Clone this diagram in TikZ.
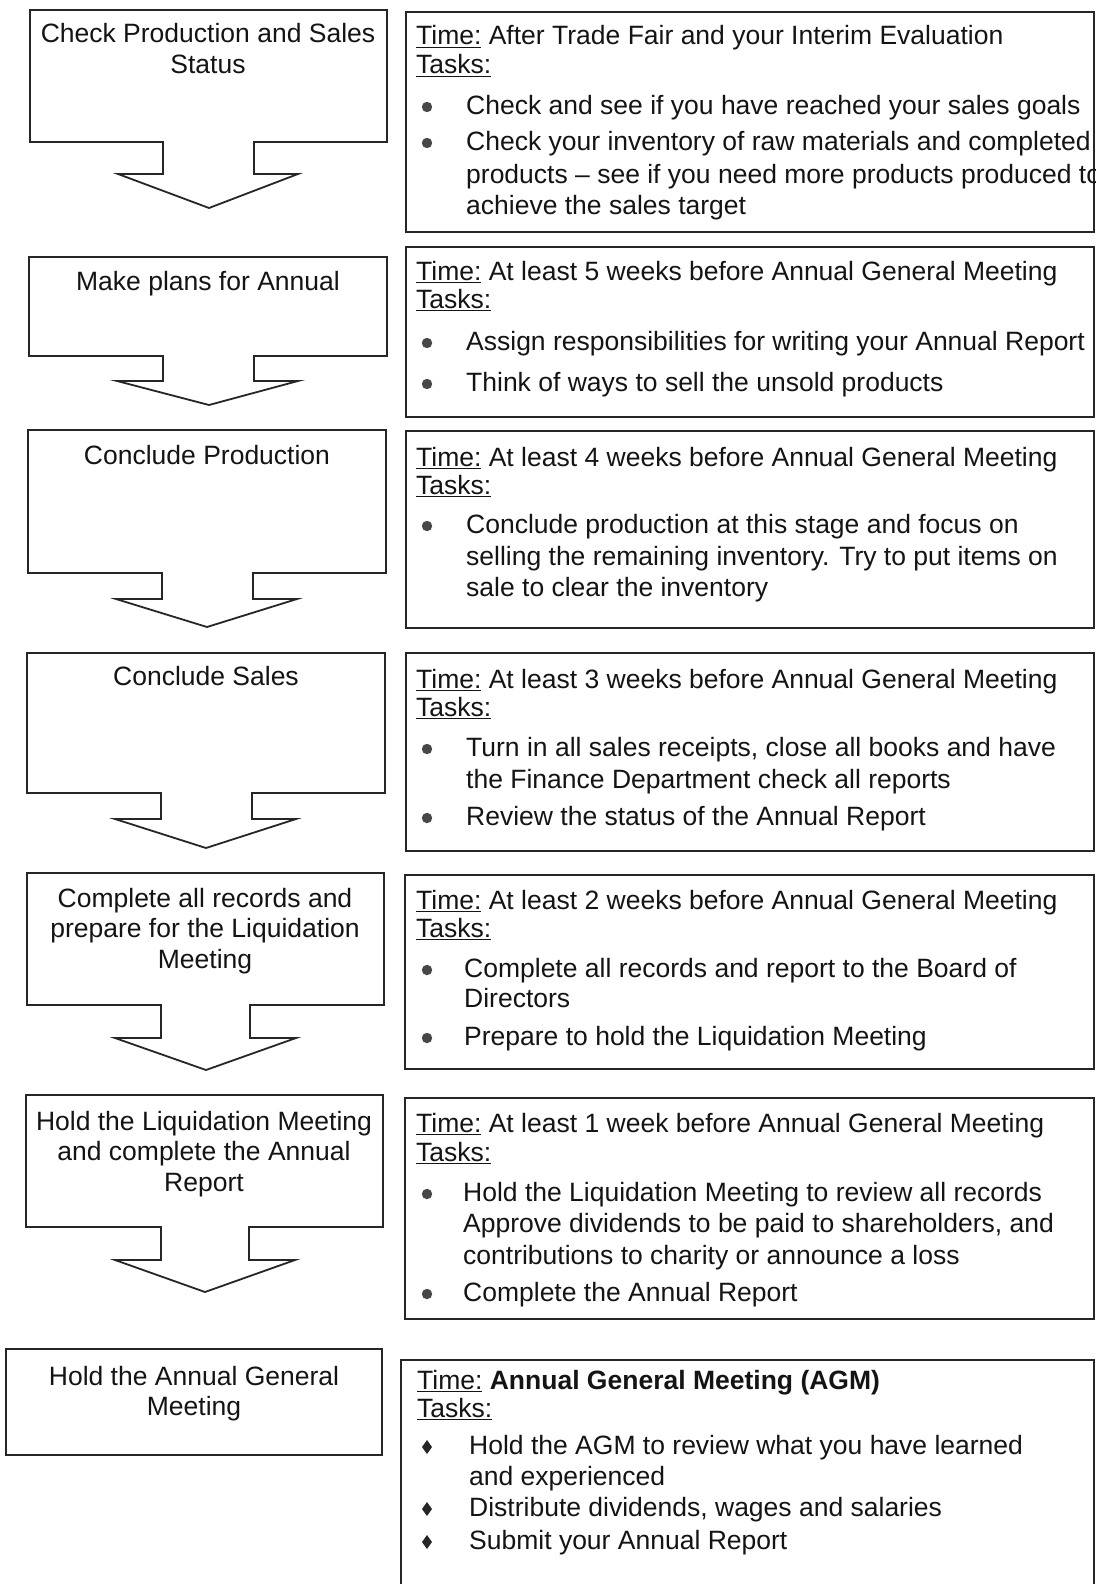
\documentclass[tikz,border=0pt]{standalone}
\usepackage{fontspec}
\setmainfont{Liberation Sans}
\newcommand\bodyfont{\fontsize{26.5pt}{31pt}\selectfont}
% underlined label word
\newcommand\uln[1]{\setbox0\hbox{#1}\rlap{\rule[-3.2pt]{\wd0}{1.5pt}}\box0\relax}

\begin{document}
\begin{tikzpicture}[x=1pt,y=-1pt,
  frame/.style={draw=black!85, line width=1.8pt, line join=miter},
  ltext/.style={anchor=base, inner sep=0pt, font=\bodyfont, text=black!92},
  rtext/.style={anchor=base west, inner sep=0pt, font=\bodyfont, text=black!92},
  dotb/.style={fill=black!72}]

\useasboundingbox (0,0) rectangle (1095,1584);
\fill[white] (0,0) rectangle (1095,1584);
\clip (0,0) rectangle (1095,1584);

% ---------- block arrows (left column) ----------
\draw[frame] (30,10) -- (387,10) -- (387,142) -- (254,142) -- (254,174) -- (298,174)
  -- (209,208) -- (118,174) -- (163,174) -- (163,142) -- (30,142) -- cycle;
\draw[frame] (29,257) -- (387,257) -- (387,356) -- (254,356) -- (254,381) -- (298,381)
  -- (209,405) -- (117,381) -- (163,381) -- (163,356) -- (29,356) -- cycle;
\draw[frame] (28,430) -- (386,430) -- (386,573) -- (253,573) -- (253,599) -- (297,599)
  -- (207,627) -- (116,599) -- (162,599) -- (162,573) -- (28,573) -- cycle;
\draw[frame] (27,653) -- (385,653) -- (385,793) -- (252,793) -- (252,819) -- (296,819)
  -- (206,848) -- (115,819) -- (161,819) -- (161,793) -- (27,793) -- cycle;
\draw[frame] (27,873) -- (384,873) -- (384,1005) -- (250,1005) -- (250,1038) -- (296,1038)
  -- (206,1070) -- (115,1038) -- (161,1038) -- (161,1005) -- (27,1005) -- cycle;
\draw[frame] (26,1095) -- (383,1095) -- (383,1227) -- (249,1227) -- (249,1260) -- (295,1260)
  -- (205,1292) -- (115,1260) -- (161,1260) -- (161,1227) -- (26,1227) -- cycle;
\draw[frame] (6,1349) rectangle (382,1455);

% ---------- step titles ----------
\node[ltext] (s1a) at (208,43) {Check Production and Sales};
\node[ltext] (s1b) at (208,74) {Status};
\node[ltext] (s2a) at (208,290) {Make plans for Annual};
\node[ltext] (s3a) at (207,464) {Conclude Production};
\node[ltext] (s4a) at (206,685) {Conclude Sales};
\node[ltext] (s5a) at (205,907) {Complete all records and};
\node[ltext] (s5b) at (205,937) {prepare for the Liquidation};
\node[ltext] (s5c) at (205,968) {Meeting};
\node[ltext] (s6a) at (204,1130) {Hold the Liquidation Meeting};
\node[ltext] (s6b) at (204,1160) {and complete the Annual};
\node[ltext] (s6c) at (204,1191) {Report};
\node[ltext] (s7a) at (194,1385) {Hold the Annual General};
\node[ltext] (s7b) at (194,1415) {Meeting};

% ---------- task boxes (right column) ----------
\draw[frame] (406,12) rectangle (1094,232);
\draw[frame] (406,247) rectangle (1094,417);
\draw[frame] (406,431) rectangle (1094,628);
\draw[frame] (406,653) rectangle (1094,851);
\draw[frame] (405,875) rectangle (1094,1069);
\draw[frame] (405,1098) rectangle (1094,1319);
\draw[frame] (401,1360) rectangle (1094,1600);

% box 1
\node[rtext] (t1a) at (416,45) {\uln{Time:} After Trade Fair and your Interim Evaluation};
\node[rtext] (t1b) at (416,74) {\uln{Tasks:}};
\fill[dotb] (427,107) circle (5.2);
\node[rtext] (t1c) at (466,114) {Check and see if you have reached your sales goals};
\fill[dotb] (427,143) circle (5.2);
\node[rtext] (t1d) at (466,150) {Check your inventory of raw materials and completed};
\node[rtext] (t1e) at (466,183) {products -- see if you need more products produced to};
\node[rtext] (t1f) at (466,214) {achieve the sales target};

% box 2
\node[rtext] (t2a) at (416,280) {\uln{Time:} At least 5 weeks before Annual General Meeting};
\node[rtext] (t2b) at (416,308) {\uln{Tasks:}};
\fill[dotb] (427,343) circle (5.2);
\node[rtext] (t2c) at (466,350) {Assign responsibilities for writing your Annual Report};
\fill[dotb] (427,384) circle (5.2);
\node[rtext] (t2d) at (466,391) {Think of ways to sell the unsold products};

% box 3
\node[rtext] (t3a) at (416,466) {\uln{Time:} At least 4 weeks before Annual General Meeting};
\node[rtext] (t3b) at (416,494) {\uln{Tasks:}};
\fill[dotb] (427,526) circle (5.2);
\node[rtext] (t3c) at (466,533) {Conclude production at this stage and focus on};
\node[rtext] (t3d) at (466,565) {selling the remaining inventory. Try to put items on};
\node[rtext] (t3e) at (466,596) {sale to clear the inventory};

% box 4
\node[rtext] (t4a) at (416,688) {\uln{Time:} At least 3 weeks before Annual General Meeting};
\node[rtext] (t4b) at (416,716) {\uln{Tasks:}};
\fill[dotb] (427,749) circle (5.2);
\node[rtext] (t4c) at (466,756) {Turn in all sales receipts, close all books and have};
\node[rtext] (t4d) at (466,788) {the Finance Department check all reports};
\fill[dotb] (427,818) circle (5.2);
\node[rtext] (t4e) at (466,825) {Review the status of the Annual Report};

% box 5
\node[rtext] (t5a) at (416,909) {\uln{Time:} At least 2 weeks before Annual General Meeting};
\node[rtext] (t5b) at (416,937) {\uln{Tasks:}};
\fill[dotb] (427,970) circle (5.2);
\node[rtext] (t5c) at (464,977) {Complete all records and report to the Board of};
\node[rtext] (t5d) at (464,1007) {Directors};
\fill[dotb] (427,1038) circle (5.2);
\node[rtext] (t5e) at (464,1045) {Prepare to hold the Liquidation Meeting};

% box 6
\node[rtext] (t6a) at (416,1132) {\uln{Time:} At least 1 week before Annual General Meeting};
\node[rtext] (t6b) at (416,1161) {\uln{Tasks:}};
\fill[dotb] (427,1194) circle (5.2);
\node[rtext] (t6c) at (463,1201) {Hold the Liquidation Meeting to review all records};
\node[rtext] (t6d) at (463,1232) {Approve dividends to be paid to shareholders, and};
\node[rtext] (t6e) at (463,1264) {contributions to charity or announce a loss};
\fill[dotb] (427,1294) circle (5.2);
\node[rtext] (t6f) at (463,1301) {Complete the Annual Report};

% box 7
\node[rtext] (t7a) at (417,1389) {\uln{Time:} \textbf{Annual General Meeting (AGM)}};
\node[rtext] (t7b) at (417,1417) {\uln{Tasks:}};
\fill[black!85] (427,1440) -- (432,1447) -- (427,1454) -- (422,1447) -- cycle;
\node[rtext] (t7c) at (469,1454) {Hold the AGM to review what you have learned};
\node[rtext] (t7d) at (469,1485) {and experienced};
\fill[black!85] (427,1502) -- (432,1509) -- (427,1516) -- (422,1509) -- cycle;
\node[rtext] (t7e) at (469,1516) {Distribute dividends, wages and salaries};
\fill[black!85] (427,1535) -- (432,1542) -- (427,1549) -- (422,1542) -- cycle;
\node[rtext] (t7f) at (469,1549) {Submit your Annual Report};

\end{tikzpicture}
\end{document}
